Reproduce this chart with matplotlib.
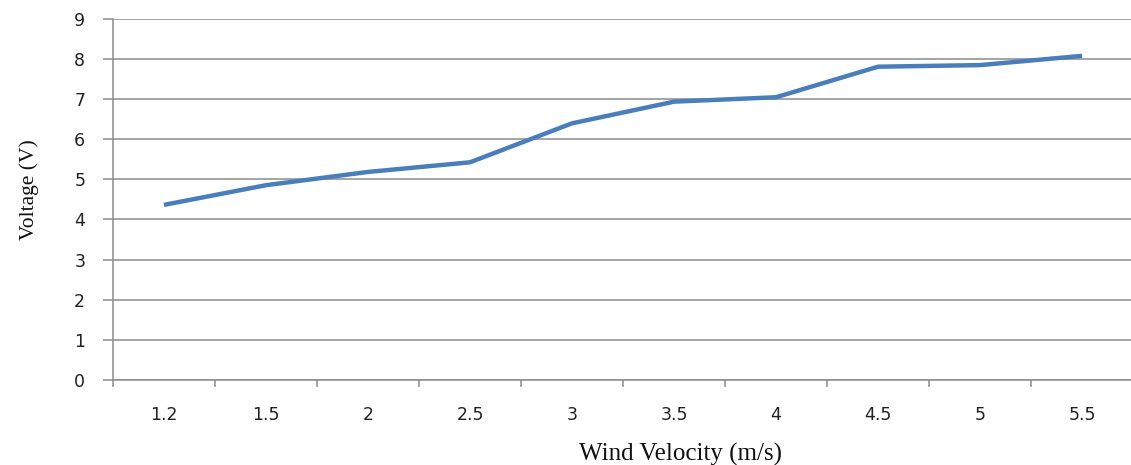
import numpy as np
import matplotlib
matplotlib.use("Agg")
import matplotlib.pyplot as plt

# wind velocity categories (m/s) and measured voltage (V)
velocity = ["1.2", "1.5", "2", "2.5", "3", "3.5", "4", "4.5", "5", "5.5"]
voltage = [4.36, 4.85, 5.18, 5.42, 6.39, 6.93, 7.04, 7.80, 7.84, 8.07]

plt.rcParams["font.family"] = "DejaVu Sans"

fig = plt.figure(figsize=(11.31, 4.65), dpi=100)
ax = fig.add_axes([0.0999, 0.1828, 0.9019, 0.7774])

x = np.arange(len(velocity))
ax.plot(x, voltage, color="#4a7ebb", lw=3.2, solid_joinstyle="round",
        solid_capstyle="butt", zorder=3)

ax.set_xlim(-0.5, len(velocity) - 0.5)
ax.set_ylim(0, 9)
ax.set_yticks(range(0, 10))
ax.yaxis.grid(True, color="#8c8c8c", lw=1.1)
ax.set_axisbelow(True)

# category labels in the middle, tick marks on the boundaries
ax.set_xticks(x)
ax.set_xticklabels(velocity)
ax.set_xticks(np.arange(-0.5, len(velocity)), minor=True)
ax.tick_params(axis="x", which="major", length=0, pad=19, labelsize=12.5,
               labelcolor="#222222")
ax.tick_params(axis="x", which="minor", length=5, width=1.1, color="#8c8c8c")
ax.tick_params(axis="y", length=7, width=1.1, color="#8c8c8c", pad=13,
               labelsize=12.5, labelcolor="#222222")

for s in ["top", "right"]:
    ax.spines[s].set_visible(False)
for s in ["left", "bottom"]:
    ax.spines[s].set_color("#8c8c8c")
    ax.spines[s].set_linewidth(1.1)

ax.set_xlabel("Wind Velocity (m/s)", family="Liberation Serif", fontsize=18,
              color="#111111", va="center")
ax.xaxis.set_label_coords(0.556, -0.205)
ax.set_ylabel("Voltage (V)", family="Liberation Serif", fontsize=15.5,
              color="#111111")
ax.yaxis.set_label_coords(-0.073, 0.526)

fig.savefig("out.png", dpi=100)
